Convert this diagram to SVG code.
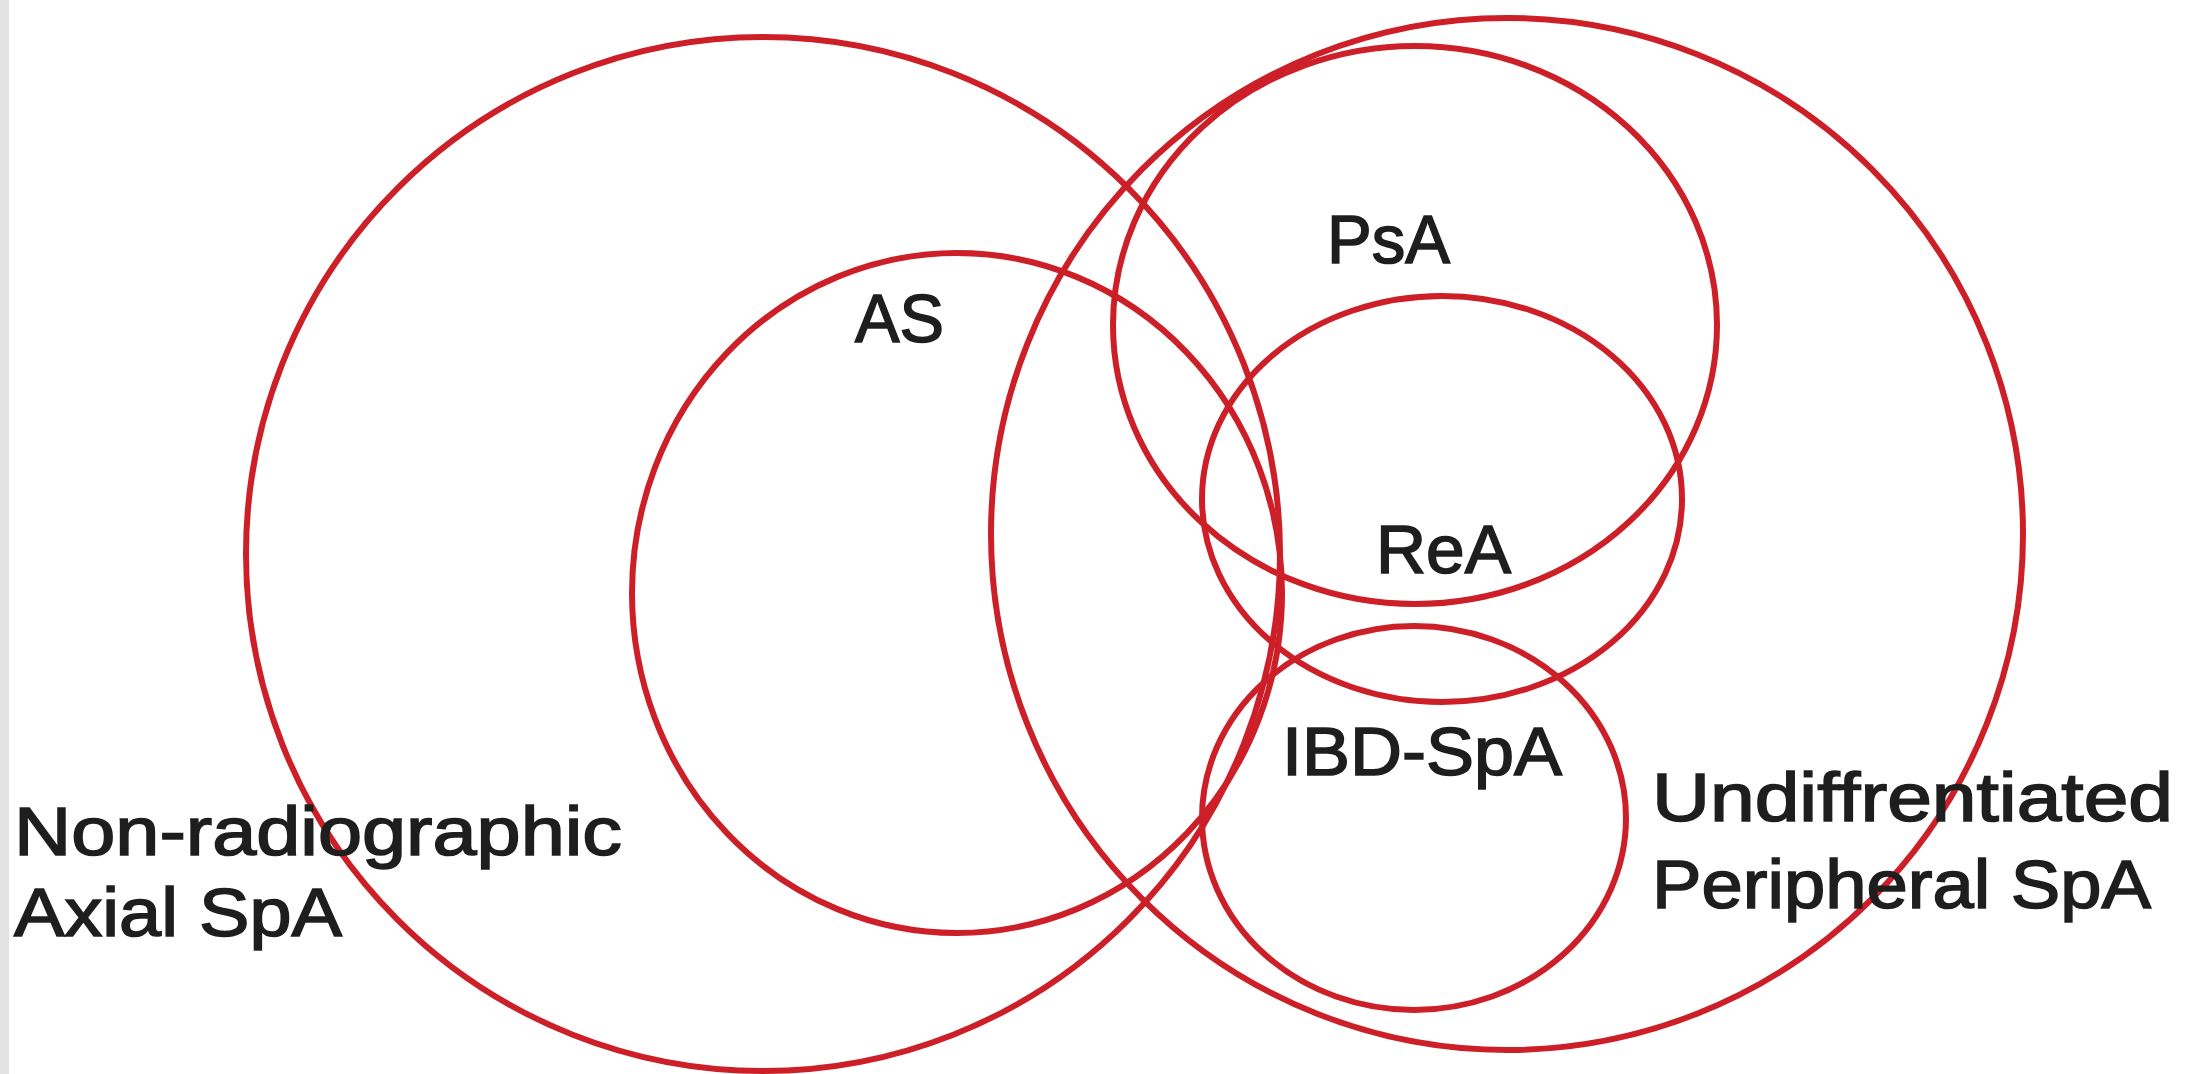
<svg xmlns="http://www.w3.org/2000/svg" width="2190" height="1074" viewBox="0 0 2190 1074">
<style>
.c{fill:none;stroke:#cc1f28;stroke-width:6}
.t{font-family:"Liberation Sans",Arial,sans-serif;font-size:68px;fill:#1e1e1e;stroke:#1e1e1e;stroke-width:1.6}
</style>
<rect x="0" y="0" width="2190" height="1074" fill="#ffffff"/>
<rect x="0" y="0" width="9" height="1074" fill="#e3e3e3"/>
<g id="connectors"></g>
<g id="nonradiographic">
<circle class="c" cx="763" cy="554" r="517"/>
<text class="t" x="14" y="855" textLength="608" lengthAdjust="spacingAndGlyphs">Non-radiographic</text>
<text class="t" x="14" y="936" textLength="328" lengthAdjust="spacingAndGlyphs">Axial SpA</text>
</g>
<g id="as">
<ellipse class="c" cx="957" cy="593" rx="325" ry="340"/>
<text class="t" x="855" y="342" textLength="89" lengthAdjust="spacingAndGlyphs">AS</text>
</g>
<g id="undifferentiated">
<circle class="c" cx="1507" cy="534" r="516"/>
<text class="t" x="1652" y="821" textLength="521" lengthAdjust="spacingAndGlyphs">Undiffrentiated</text>
<text class="t" x="1652" y="908" textLength="499" lengthAdjust="spacingAndGlyphs">Peripheral SpA</text>
</g>
<g id="psa">
<ellipse class="c" cx="1415" cy="325" rx="302" ry="279"/>
<text class="t" x="1327" y="263" textLength="123" lengthAdjust="spacingAndGlyphs">PsA</text>
</g>
<g id="rea">
<ellipse class="c" cx="1442" cy="499" rx="240" ry="203"/>
<text class="t" x="1376" y="573" textLength="135" lengthAdjust="spacingAndGlyphs">ReA</text>
</g>
<g id="ibd">
<ellipse class="c" cx="1414" cy="818" rx="212" ry="192"/>
<text class="t" x="1282" y="775" textLength="280" lengthAdjust="spacingAndGlyphs">IBD-SpA</text>
</g>
</svg>
